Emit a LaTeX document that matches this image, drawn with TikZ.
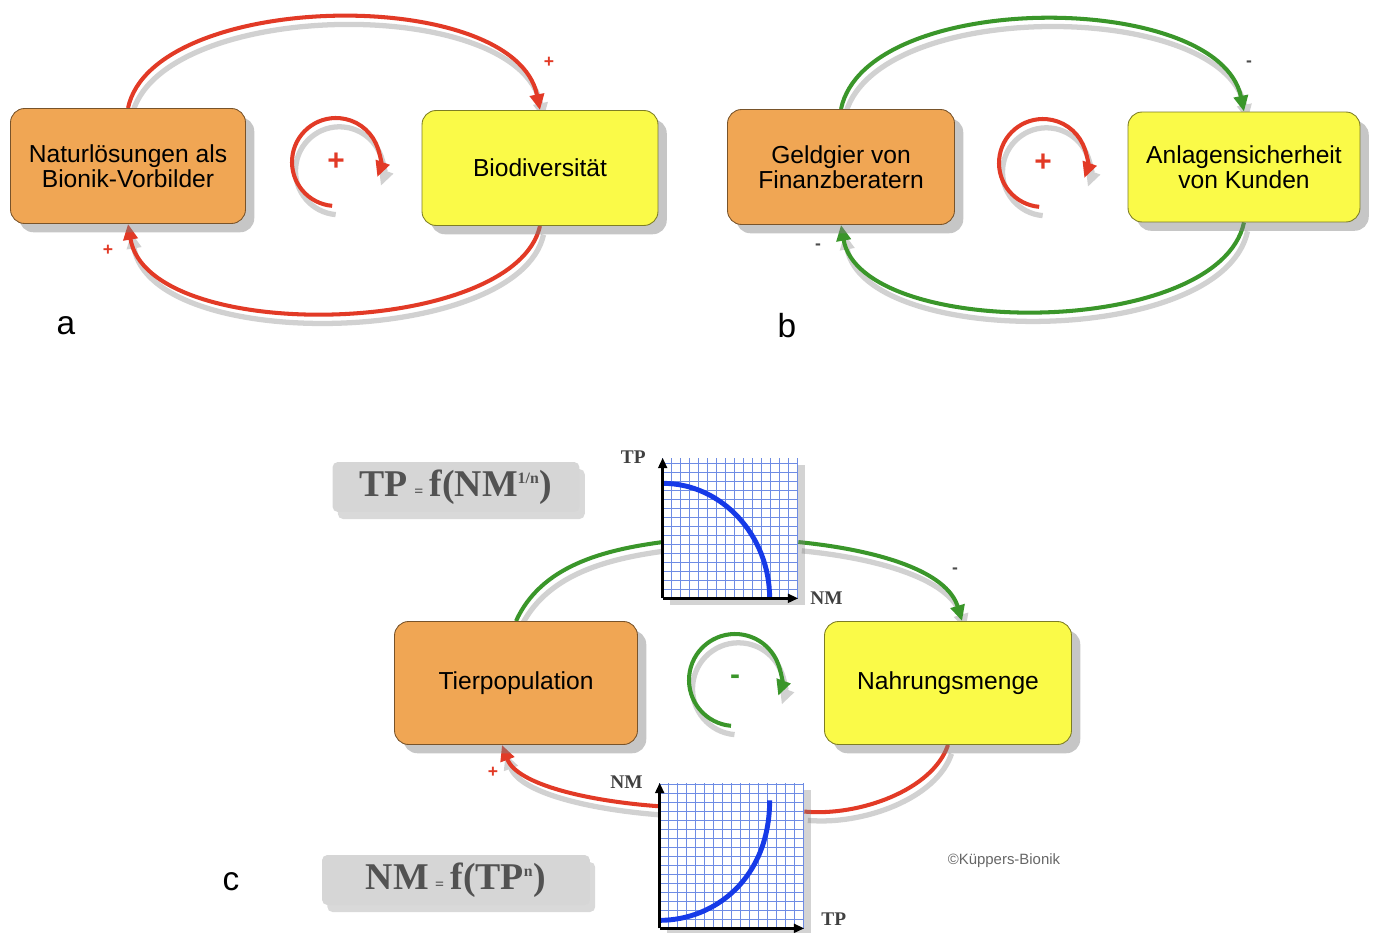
\documentclass[tikz,border=0pt]{standalone}
\usepackage{fontspec}
\setmainfont{Liberation Serif}
\setsansfont{Liberation Sans}
\usepackage{tikz}
\usetikzlibrary{shadows,arrows.meta,positioning,calc,backgrounds}

\definecolor{boxorange}{RGB}{240,166,84}
\definecolor{boxyellow}{RGB}{250,250,72}
\definecolor{linkred}{RGB}{226,58,38}
\definecolor{linkgreen}{RGB}{58,150,42}
\definecolor{gridblue}{RGB}{110,140,228}
\definecolor{curveblue}{RGB}{22,58,232}

\begin{document}
\begin{tikzpicture}[x=0.02cm, y=0.02cm,
        factor/.style={rounded corners=8pt, fill=#1, draw=#1!50!black, line width=0.5pt,
            minimum width=4.7cm, minimum height=2.3cm, align=center,
            font=\sffamily\fontsize{14}{14.5}\selectfont,
            drop shadow={shadow xshift=5pt, shadow yshift=-5pt, opacity=0.45}},
        link/.style={draw=#1, line width=2.3pt,
            preaction={draw=black!18, line width=3pt, transform canvas={shift={(2pt,-5pt)}}}},
        tip/.style={-{Triangle[length=9pt,width=8pt]}},
        sign/.style={font=\sffamily\bfseries\fontsize{10}{10}\selectfont, text=#1},
        loopsign/.style={font=\sffamily\bfseries\fontsize{17}{17}\selectfont, text=#1},
        graphbox/.style={inner sep=0pt, fill=white,
            drop shadow={shadow xshift=4pt, shadow yshift=-4pt, opacity=0.35}},
        gridline/.style={draw=gridblue, line width=0.5pt},
        curve/.style={draw=curveblue, line width=2.8pt},
        axis/.style={line width=1.6pt, -{Triangle[length=6pt,width=5pt]}},
        axlabel/.style={font=\bfseries\fontsize{11}{11}\selectfont, text=black!75, inner sep=1pt},
        formula/.style={fill=black!16, rounded corners=3pt, minimum height=1cm,
            font=\bfseries\fontsize{21.5}{21.5}\selectfont, text=black!68,
            drop shadow={shadow xshift=3pt, shadow yshift=-4pt, opacity=0.3}},
        panel/.style={font=\sffamily\fontsize{19}{19}\selectfont}
    ]
\useasboundingbox (0,0) rectangle (1384,-933);

% --- a: Bionik loop ---
\node[factor=boxorange] (natur) at (128,-166) {Naturlösungen als\\Bionik-Vorbilder};
\node[factor=boxyellow, minimum width=4.72cm] (bio) at (540,-168) {Biodiversität};
\node[loopsign=linkred] (loopa) at (336,-162) {+};
\node[sign=linkred] (pa1) at (549,-62) {+};
\node[sign=linkred] (pa2) at (108,-250) {+};
\node[panel] (la) at (66,-326) {a};

% --- b: Finanz loop ---
\node[factor=boxorange, minimum width=4.54cm] (geld) at (841,-167) {Geldgier von\\Finanzberatern};
\node[factor=boxyellow, minimum width=4.64cm, minimum height=2.2cm] (anlage) at (1244,-167) {Anlagensicherheit\\von Kunden};
\node[loopsign=linkred] (loopb) at (1043,-163) {+};
\node[sign=black!70] (mb1) at (1249,-64) {-};
\node[sign=black!70] (mb2) at (818,-247) {-};
\node[panel] (lb) at (787,-326) {b};

% --- c: Räuber/Nahrung loop ---
\node[factor=boxorange, minimum width=4.86cm, minimum height=2.46cm] (tier) at (516,-683) {Tierpopulation};
\node[factor=boxyellow, minimum width=4.94cm, minimum height=2.46cm] (nahr) at (948,-683) {Nahrungsmenge};
\node[loopsign=linkgreen] (loopc) at (735,-680) {-};
\node[sign=black!70] (mc1) at (955,-571) {-};
\node[sign=linkred] (pc1) at (493,-772) {+};
\node[panel] (lc) at (231,-882) {c};

\node[graphbox, minimum width=2.7cm, minimum height=2.8cm] (g1) at (730.5,-528) {};
\node[graphbox, minimum width=2.88cm, minimum height=2.9cm] (g2) at (732,-855.5) {};

\node[formula, minimum width=4.94cm] (f1) at (456,-487) {TP\,{\small=}\,f(NM\textsuperscript{\small 1/n})};
\node[formula, minimum width=5.36cm] (f2) at (456,-880) {NM\,{\small=}\,f(TP\textsuperscript{\small n})};

\node[font=\sffamily\fontsize{8.5}{8.5}\selectfont, text=black!60] (copy) at (1004,-861) {©Küppers-Bionik};

% --- graphs ---
\begin{scope}[shift={(g1.south west)}]
    \draw[gridline] (0,0) grid[step=9] (135,140);
    \draw[curve] (0,115) .. controls (59,115) and (107,63) .. (107,0);
\end{scope}
\draw[axis] (g1.south west) -- (g1.north west);
\draw[axis] (g1.south west) -- (g1.south east);
\node[axlabel, left=0.3cm of g1.north west] (tp1) {TP};
\node[axlabel, right=0.2cm of g1.south east] (nm1) {NM};

\begin{scope}[shift={(g2.south west)}]
    \draw[gridline] (0,0) grid[step=9] (144,145);
    \draw[curve] (0,8) .. controls (55,8) and (110,50) .. (110,128);
\end{scope}
\draw[axis] (g2.south west) -- (g2.north west);
\draw[axis] (g2.south west) -- (g2.south east);
\node[axlabel, left=0.3cm of g2.north west] (nm2) {NM};
\node[axlabel, right=0.3cm of g2.south east, yshift=5pt] (tp2) {TP};

% --- links (behind the boxes) ---
\begin{pgfonlayer}{background}
    \draw[link=linkred, tip] (natur.north) .. controls +(25,118) and +(-25,126) .. (bio.north);
    \draw[link=linkred, tip] (bio.south) .. controls +(-25,-112) and +(20,-122) .. (natur.south);
    \draw[link=linkgreen, tip] (geld.north) .. controls +(25,120) and +(-25,122) .. (anlage.north);
    \draw[link=linkgreen, tip] (anlage.south) .. controls +(-25,-117) and +(20,-115) .. (geld.south);

    \draw[link=linkgreen] (tier.north) .. controls +(25,55) and +(-60,-8) .. ([yshift=-8]g1.west);
    \draw[link=linkgreen, tip] ([yshift=-8]g1.east) .. controls +(80,-8) and +(-15,50) .. ([xshift=8]nahr.north);
    \draw[link=linkred] (nahr.south) .. controls +(-15,-45) and +(55,-5) .. ([yshift=25]g2.east);
    \draw[link=linkred, tip] ([yshift=28]g2.west) .. controls +(-70,5) and +(15,-40) .. ([xshift=-8]tier.south);
\end{pgfonlayer}

% --- loop arrows ---
\draw[link=linkred, tip] (loopa) ++(265:44) arc[start angle=265, end angle=-20, radius=44];
\draw[link=linkred, tip] (loopb) ++(265:44) arc[start angle=265, end angle=-20, radius=44];
\draw[link=linkgreen, tip] (loopc) ++(265:46) arc[start angle=265, end angle=-20, radius=46];

\end{tikzpicture}
\end{document}
